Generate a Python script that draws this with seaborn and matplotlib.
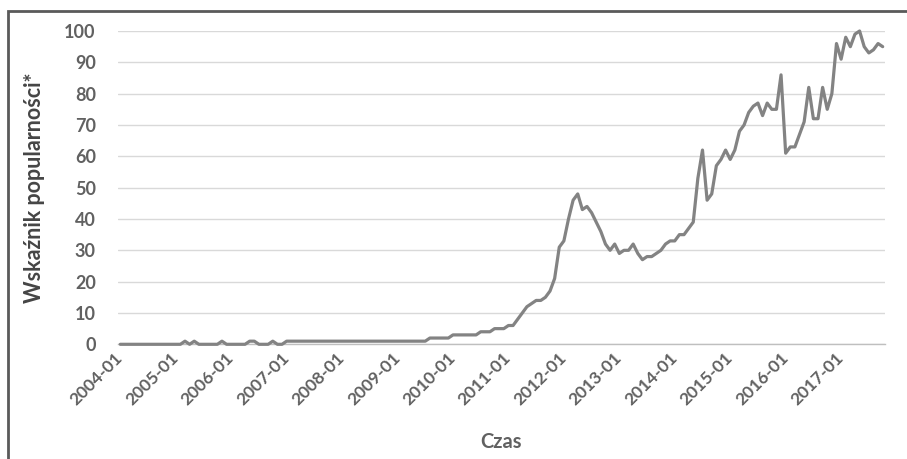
import matplotlib
matplotlib.use("Agg")
import matplotlib.pyplot as plt
import matplotlib.transforms as mtransforms
import seaborn as sns
import pandas as pd
from matplotlib.patches import Rectangle

# monthly popularity index, 2004-01 .. 2017-10
y2004 = [0, 0, 0, 0, 0, 0, 0, 0, 0, 0, 0, 0]
y2005 = [0, 0, 1, 0, 1, 0, 0, 0, 0, 0, 1, 0]
y2006 = [0, 0, 0, 0, 1, 1, 0, 0, 0, 1, 0, 0]
y2007 = [1, 1, 1, 1, 1, 1, 1, 1, 1, 1, 1, 1]
y2008 = [1, 1, 1, 1, 1, 1, 1, 1, 1, 1, 1, 1]
y2009 = [1, 1, 1, 1, 1, 1, 1, 2, 2, 2, 2, 2]
y2010 = [3, 3, 3, 3, 3, 3, 4, 4, 4, 5, 5, 5]
y2011 = [6, 6, 8, 10, 12, 13, 14, 14, 15, 17, 21, 31]
y2012 = [33, 40, 46, 48, 43, 44, 42, 39, 36, 32, 30, 32]
y2013 = [29, 30, 30, 32, 29, 27, 28, 28, 29, 30, 32, 33]
y2014 = [33, 35, 35, 37, 39, 53, 62, 46, 48, 57, 59, 62]
y2015 = [59, 62, 68, 70, 74, 76, 77, 73, 77, 75, 75, 86]
y2016 = [61, 63, 63, 67, 71, 82, 72, 72, 82, 75, 80, 96]
y2017 = [91, 98, 95, 99, 100, 95, 93, 94, 96, 95]

values = (y2004 + y2005 + y2006 + y2007 + y2008 + y2009 + y2010 +
          y2011 + y2012 + y2013 + y2014 + y2015 + y2016 + y2017)

tick_labels = ["2004-01", "2005-01", "2006-01", "2007-01", "2008-01",
               "2009-01", "2010-01", "2011-01", "2012-01", "2013-01",
               "2014-01", "2015-01", "2016-01", "2017-01"]
y_ticks = [0, 10, 20, 30, 40, 50, 60, 70, 80, 90, 100]

df = pd.DataFrame({"idx": range(len(values)), "value": values})

sns.set_theme(style="white")
plt.rcParams["font.family"] = ["Lato", "DejaVu Sans"]

W, H = 907, 459
fig = plt.figure(figsize=(W / 100, H / 100), dpi=100)
left, right, top, bottom = 118, 885, 31, 344.3
ax = fig.add_axes([left / W, 1 - bottom / H, (right - left) / W, (bottom - top) / H])

text_col = "#616161"
line_col = "#838383"

sns.lineplot(data=df, x="idx", y="value", ax=ax, color=line_col,
             linewidth=2.3, clip_on=False, zorder=3)

ax.set_xlim(-0.5, len(values) - 0.5)
ax.set_ylim(0, 100)
ax.set_yticks(y_ticks)
ax.set_yticklabels([str(t) for t in y_ticks], fontsize=13,
                   color=text_col, fontweight="bold")
ax.set_xticks([i * 12 for i in range(len(tick_labels))])
ax.set_xticklabels(tick_labels, rotation=45, ha="right", va="center",
                   rotation_mode="anchor", fontsize=12.5, color=text_col,
                   fontweight="bold")
shift = mtransforms.ScaledTranslation(6 / 100, 0, fig.dpi_scale_trans)
for lbl in ax.get_xticklabels():
    lbl.set_transform(lbl.get_transform() + shift)
ax.tick_params(axis="y", length=0, pad=16)
ax.tick_params(axis="x", length=0, pad=8)

for s in ["left", "right", "top"]:
    ax.spines[s].set_visible(False)
ax.spines["bottom"].set_color("#bfbfbf")
ax.spines["bottom"].set_linewidth(1.0)

ax.yaxis.grid(True, color="#d9d9d9", linewidth=1.0)
ax.xaxis.grid(False)
ax.set_axisbelow(True)

ax.set_ylabel("Wskaźnik popularności*", fontsize=15.5, color="#454545",
              fontweight="bold")
ax.set_xlabel("Czas", fontsize=14.5, color=text_col, fontweight="bold")
ax.yaxis.set_label_coords(-(118 - 45) / (right - left), 0.5)
ax.xaxis.set_label_coords(0.5, -(432 - bottom) / (bottom - top))

# outer frame (top and left visible)
frame = Rectangle((7.5 / W, -0.05), 1.1, (H - 10.5) / H + 0.05,
                  transform=fig.transFigure, fill=False,
                  edgecolor="#5a5a5a", linewidth=2.0, clip_on=False)
fig.patches.append(frame)

fig.savefig("out.png", dpi=100, facecolor="white")
